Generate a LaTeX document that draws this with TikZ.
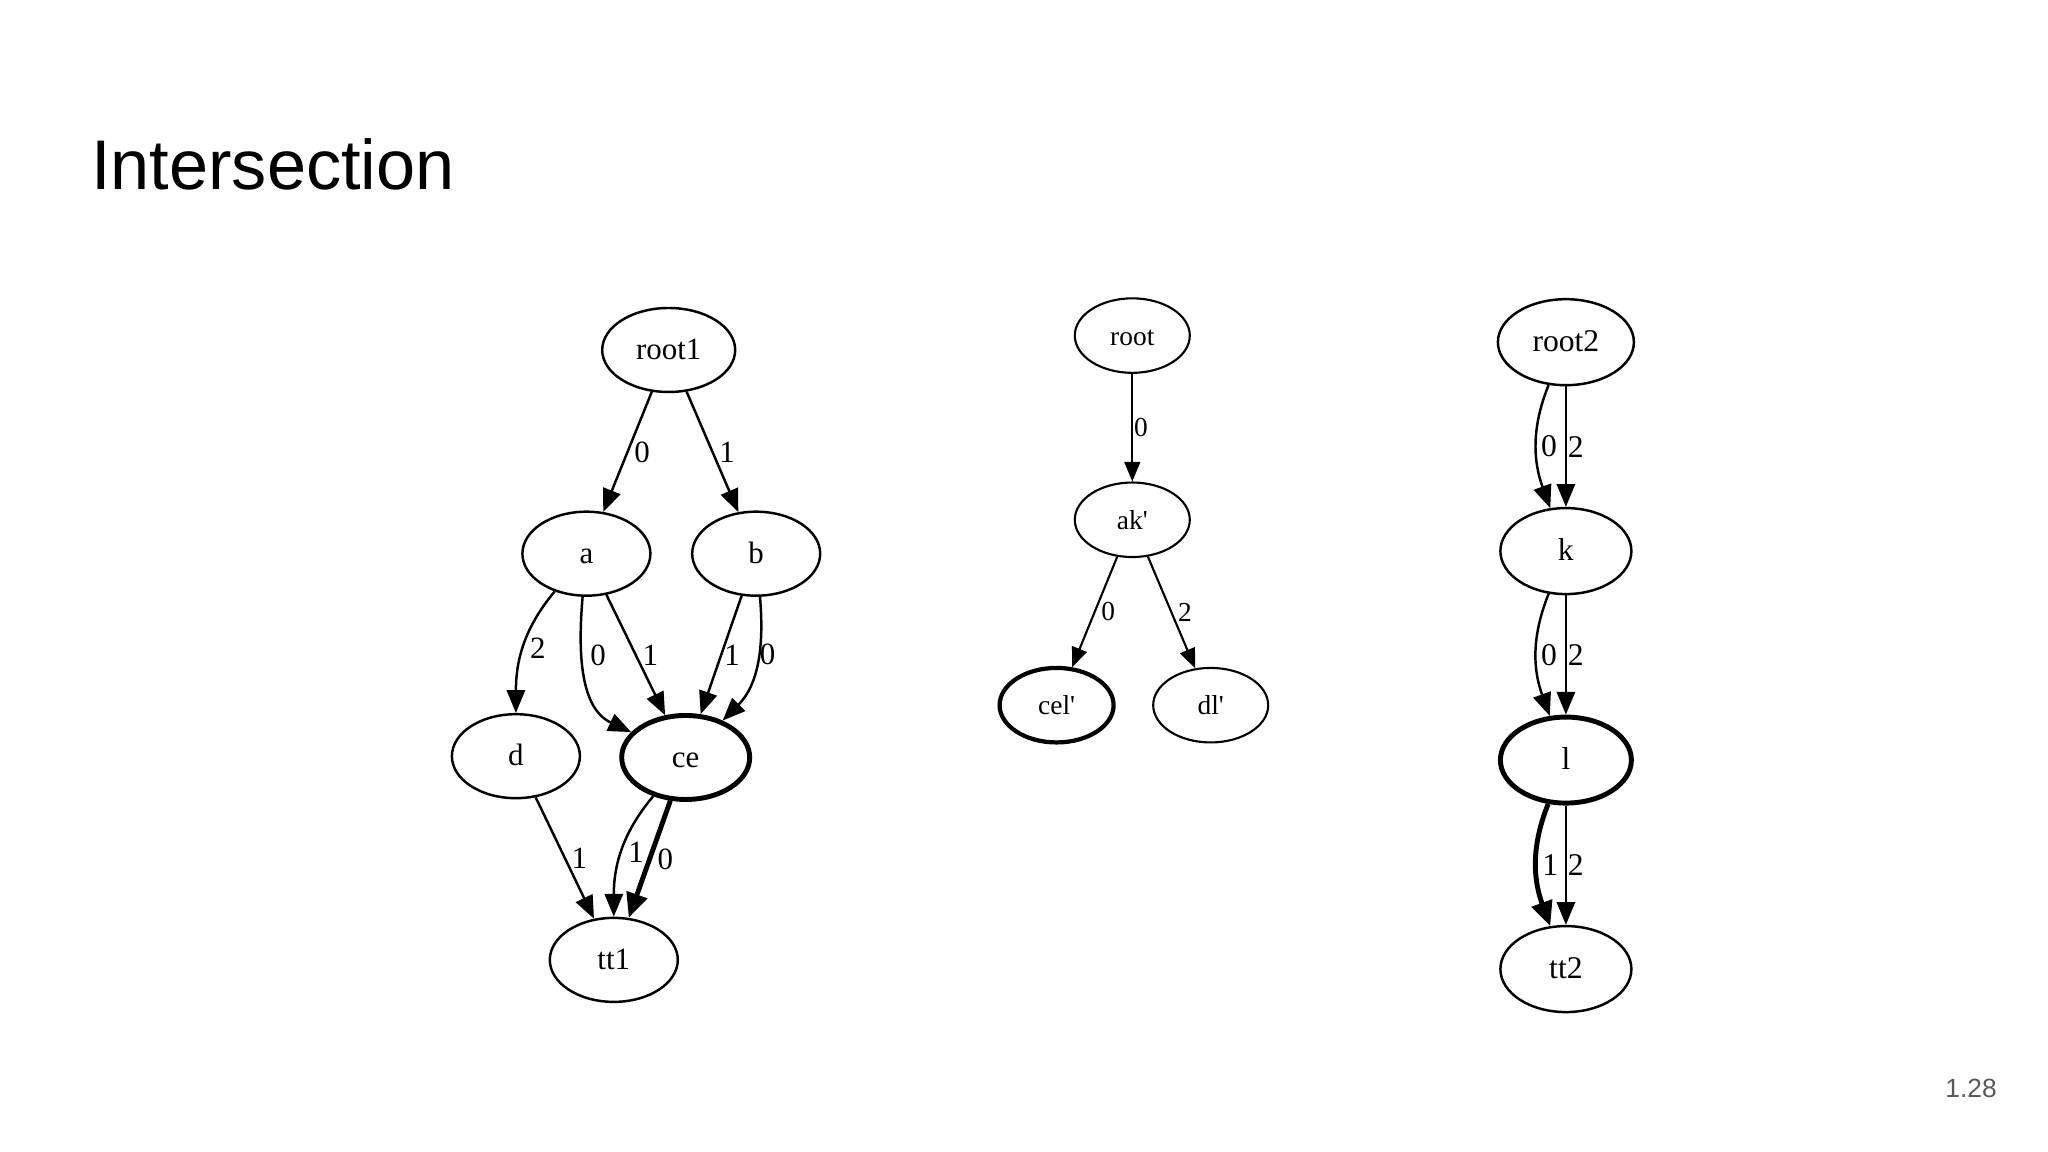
\documentclass[tikz,border=0pt]{standalone}
\usepackage{fontspec}
\setmainfont{Liberation Serif}[Ligatures=TeXOff]
\newfontfamily\titlefont{Liberation Sans}
\usetikzlibrary{arrows.meta,shapes.geometric}

\tikzset{
  dotnode/.style={draw, ellipse, inner sep=0pt, minimum width=1.28cm, minimum height=0.84cm,
    text height=1.45ex, text depth=0.25ex},
  boldnode/.style={line width=1.4pt},
  boldedge/.style={line width=1.4pt, -{Triangle[length=7pt,width=6pt]}},
  lbl/.style={right, inner sep=1.6pt},
  vlbl/.style={right, inner sep=0.2pt}
}

\begin{document}
\begin{tikzpicture}[>={Triangle[length=6.5pt,width=5.2pt]}, line width=0.7pt]
    \useasboundingbox (0,0) rectangle (20.48,11.52);

    % Title and page number
    \node[anchor=base west, inner sep=0pt, font=\titlefont\fontsize{20}{24}\selectfont] (title) at (0.9,9.62) {Intersection};
    \node[anchor=base east, inner sep=0pt, text=black!65, font=\titlefont\fontsize{7.5}{9}\selectfont] (pagenum) at (19.98,0.54) {1.28};

    % Draw first diagram
    \begin{scope}[font=\fontsize{8.8}{10}\selectfont]
    \node[dotnode, minimum width=1.33cm] (root1) at (6.687,8.02) {root1};
    \node[dotnode] (a) at (5.864,5.983) {a};
    \node[dotnode] (b) at (7.562,5.983) {b};
    \node[dotnode] (d) at (5.159,3.958) {d};
    \node[dotnode, boldnode] (ce) at (6.857,3.945) {ce};
    \node[dotnode] (tt1) at (6.138,1.921) {tt1};

    \draw[->] (root1) -- node[lbl] {0} (a);
    \draw[->] (root1) -- node[lbl] {1} (b);
    \draw[->] (a) to[out=-130, in=90] node[lbl] {2} (d);
    \draw[->] (a) to[out=-95, in=155] node[lbl, pos=0.36, inner sep=2pt] {0} (ce);
    \draw[->] (a) -- node[lbl] {1} (ce);
    \draw[->] (b) -- node[lbl, inner sep=0.6pt] {1} (ce);
    \draw[->] (b) to[out=-85, in=45] node[lbl, pos=0.42, inner sep=0pt] {0} (ce);
    \draw[->] (d) -- node[lbl] {1} (tt1);
    \draw[->] (ce) to[out=-130, in=90] node[lbl] {1} (tt1);
    \draw[boldedge] (ce) -- node[lbl] {0} (tt1);
    \end{scope}

    % Draw intersection result
    \begin{scope}[font=\fontsize{7.8}{9}\selectfont, line width=0.6pt, >={Triangle[length=5.6pt,width=4.5pt]}]
    \node[dotnode, minimum width=1.15cm, minimum height=0.745cm] (root) at (11.323,8.164) {root};
    \node[dotnode, minimum width=1.15cm, minimum height=0.745cm] (akp) at (11.323,6.322) {ak'};
    \node[dotnode, minimum width=1.14cm, minimum height=0.745cm, line width=1.2pt] (celp) at (10.566,4.468) {cel'};
    \node[dotnode, minimum width=1.15cm, minimum height=0.745cm] (dlp) at (12.107,4.468) {dl'};

    \draw[->] (root) -- node[vlbl] {0} (akp);
    \draw[->] (akp) -- node[lbl] {0} (celp);
    \draw[->] (akp) -- node[lbl] {2} (dlp);
    \end{scope}

    % Draw second diagram
    \begin{scope}[font=\fontsize{9}{10}\selectfont]
    \node[dotnode, minimum width=1.36cm, minimum height=0.86cm] (root2) at (15.659,8.098) {root2};
    \node[dotnode, minimum width=1.31cm, minimum height=0.86cm] (k) at (15.659,6.009) {k};
    \node[dotnode, boldnode, minimum width=1.31cm, minimum height=0.86cm] (l) at (15.659,3.919) {l};
    \node[dotnode, minimum width=1.31cm, minimum height=0.86cm] (tt2) at (15.659,1.829) {tt2};

    \draw[->] (root2) to[out=-112, in=110] node[lbl, inner sep=1pt] {0} (k);
    \draw[->] (root2) -- node[vlbl] {2} (k);
    \draw[->] (k) to[out=-112, in=110] node[lbl, inner sep=1pt] {0} (l);
    \draw[->] (k) -- node[vlbl] {2} (l);
    \draw[boldedge] (l) to[out=-112, in=110] node[lbl, inner sep=1pt] {1} (tt2);
    \draw[->] (l) -- node[vlbl] {2} (tt2);
    \end{scope}
\end{tikzpicture}
\end{document}
